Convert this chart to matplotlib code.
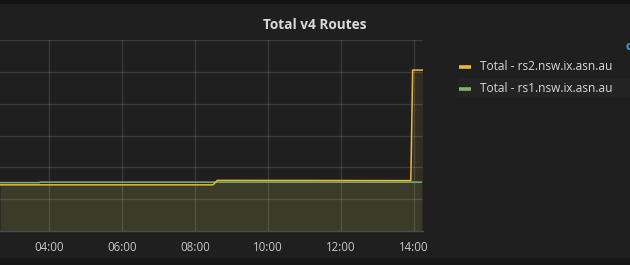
import matplotlib
matplotlib.use("Agg")
import matplotlib.pyplot as plt
import matplotlib.dates as mdates
import pandas as pd
from matplotlib.patches import Rectangle

# ---- data ----
title = "Total v4 Routes"
series_names = ["Total - rs2.nsw.ix.asn.au", "Total - rs1.nsw.ix.asn.au"]
rs2_times = ["02:40", "08:30", "08:37", "11:00", "13:55", "13:58", "14:14"]
rs2_values = [2900, 2900, 3180, 3175, 3165, 10110, 10110]
rs1_times = ["02:40", "03:45", "03:46", "08:30", "14:12"]
rs1_values = [3040, 3040, 3070, 3070, 3070]
x_ticks = ["04:00", "06:00", "08:00", "10:00", "12:00", "14:00"]
x_range = ["02:40", "14:15"]
y_ticks = [0, 2000, 4000, 6000, 8000, 10000, 12000]

day = "2017-06-01 "
def t(s):
    return pd.to_datetime([day + v for v in s])

# ---- style ----
BG = "#1f1f20"
YELLOW = "#eab839"
GREEN = "#7eb26d"
TXT = "#d8d9da"

fig = plt.figure(figsize=(6.3, 2.65), dpi=100, facecolor=BG)
# dark bands top/bottom
fig.patches.append(Rectangle((0, 1 - 4 / 265), 1, 4 / 265, transform=fig.transFigure,
                             facecolor="#141414", edgecolor="none", zorder=0))
fig.patches.append(Rectangle((0, 0), 1, 7 / 265, transform=fig.transFigure,
                             facecolor="#161616", edgecolor="none", zorder=0))
# legend hover row highlight
fig.patches.append(Rectangle((458 / 630, (265 - 97) / 265), 172 / 630, 19 / 265,
                             transform=fig.transFigure, facecolor="#232324",
                             edgecolor="none", zorder=0))

ax = fig.add_axes([0, (265 - 231) / 265, 423 / 630, 191 / 265])
ax.set_facecolor(BG)

x2 = t(rs2_times)
x1 = t(rs1_times)
ax.fill_between(x2, rs2_values, 0, color=YELLOW, alpha=0.10, lw=0, zorder=1)
ax.fill_between(x1, rs1_values, 0, color=GREEN, alpha=0.10, lw=0, zorder=1)
ax.plot(x1, rs1_values, color=GREEN, lw=1.1, zorder=3, label=series_names[1])
ax.plot(x2, rs2_values, color=YELLOW, lw=1.1, zorder=4, label=series_names[0])

ax.set_xlim(t(x_range))
ax.set_ylim(y_ticks[0], y_ticks[-1])
ax.set_yticks(y_ticks)
ax.set_xticks(t(x_ticks))
ax.set_xticklabels(x_ticks)
ax.tick_params(axis="x", length=0, pad=7, labelsize=8.3, labelcolor="#c8c8c8")
ax.tick_params(axis="y", length=0, labelleft=False)
for lab in ax.get_xticklabels():
    lab.set_family("Open Sans")
ax.set_axisbelow(False)
ax.grid(True, color="#ffffff", alpha=0.13, lw=0.9, zorder=2)
for s in ["left", "right", "top"]:
    ax.spines[s].set_visible(False)
ax.spines["bottom"].set_color("#4a4a4a")
ax.spines["bottom"].set_linewidth(1.0)

fig.text(315 / 630, 1 - 25 / 265, title, ha="center", va="center", color=TXT,
         fontsize=9.8, fontweight="bold", family="Open Sans")

# legend (manual)
for i, (name, col) in enumerate([(series_names[0], YELLOW), (series_names[1], GREEN)]):
    yy = 1 - (67 + 22 * i) / 265
    fig.add_artist(plt.Line2D([459 / 630, 471 / 630], [yy, yy], transform=fig.transFigure,
                              color=col, lw=2.6, solid_capstyle="butt"))
    fig.text(480 / 630, yy, name, ha="left", va="center", color=TXT,
             fontsize=8.6, family="Open Sans")

fig.text(625 / 630, 1 - 46 / 265, "c", ha="left", va="center", color="#33a2e5",
         fontsize=9, fontweight="bold", family="Open Sans")

fig.savefig("out.png", dpi=100, facecolor=BG)
